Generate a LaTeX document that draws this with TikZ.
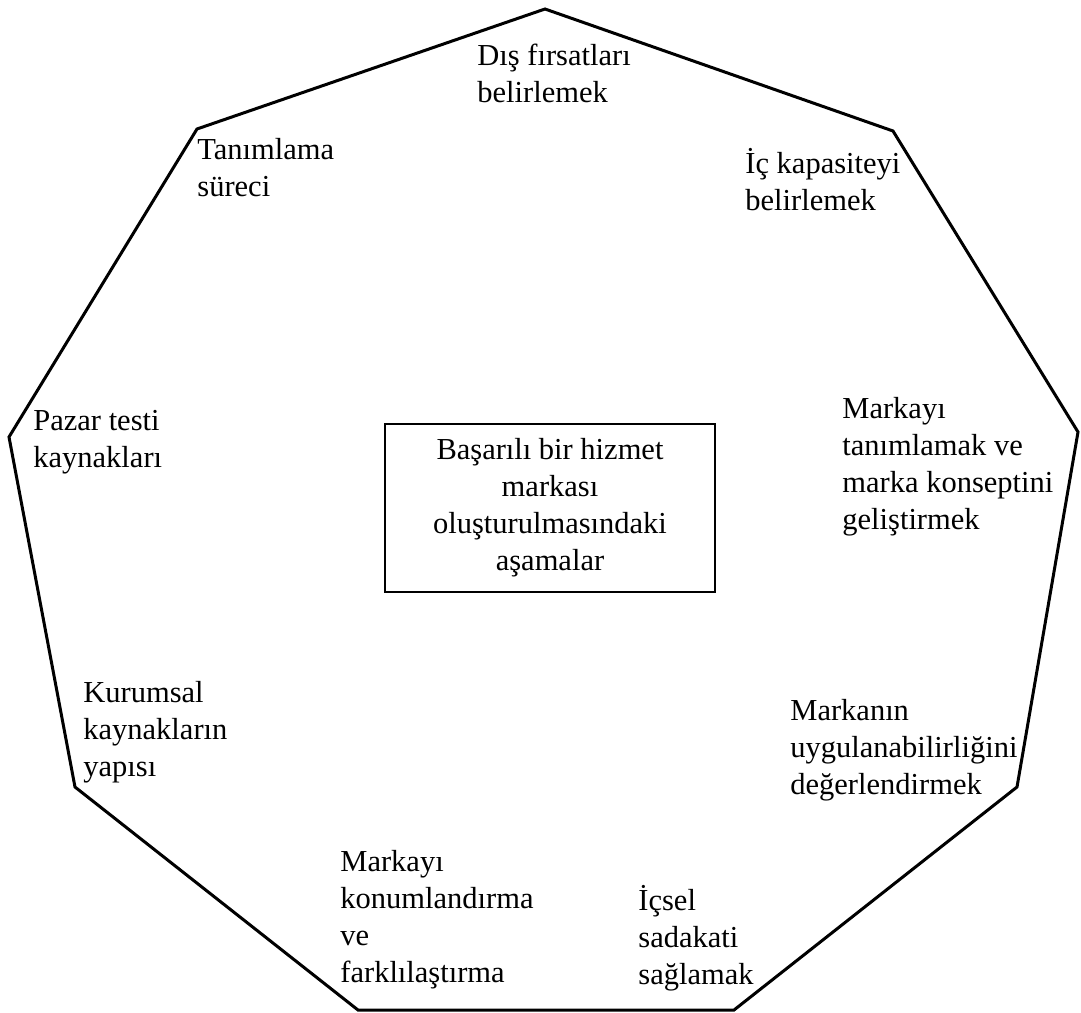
\documentclass[tikz,border=0pt]{standalone}
\usepackage{fontspec}
\setmainfont{Liberation Serif}
% left-aligned block of lines whose base is the first line's baseline
\newcommand{\leftlines}[1]{\begin{tabular}[t]{@{}l@{}}#1\end{tabular}}
\begin{document}
\begin{tikzpicture}[x=0.5pt,y=-0.5pt,
  every node/.style={font=\fontsize{15.25}{18.5}\selectfont, inner sep=0pt},
  stage/.style={anchor=base west},
  frame/.style={draw=black, line width=1.5pt, line join=miter},
  centrebox/.style={draw=black, line width=1pt, minimum width=165pt, minimum height=84pt}]
\useasboundingbox (0,0) rectangle (1081,1012);

% corners of the nine-sided outline
\coordinate (v1) at (545,9);
\coordinate (v2) at (893,131);
\coordinate (v3) at (1078,432);
\coordinate (v4) at (1017,787);
\coordinate (v5) at (734,1010);
\coordinate (v6) at (358,1010);
\coordinate (v7) at (75,787);
\coordinate (v8) at (9,437);
\coordinate (v9) at (197,129);
\draw[frame] (v1) -- (v2) -- (v3) -- (v4) -- (v5) -- (v6) -- (v7) -- (v8) -- (v9) -- cycle;

% central box
\node[centrebox] (goal) at (550,508)
  {\begin{tabular}{@{}c@{}}Başarılı bir hizmet\\ markası\\ oluşturulmasındaki\\ aşamalar\end{tabular}};

% stages around the outline
\node[stage] (dis) at (477,65) {\leftlines{Dış fırsatları\\ belirlemek}};
\node[stage] (ic) at (745,173) {\leftlines{İç kapasiteyi\\ belirlemek}};
\node[stage] (tanim) at (197,159) {\leftlines{Tanımlama\\ süreci}};
\node[stage] (pazar) at (33,430) {\leftlines{Pazar testi\\ kaynakları}};
\node[stage] (marka) at (842,418) {\leftlines{Markayı\\ tanımlamak ve\\ marka konseptini\\ geliştirmek}};
\node[stage] (uygula) at (790,720) {\leftlines{Markanın\\ uygulanabilirliğini\\ değerlendirmek}};
\node[stage] (kurum) at (83,702) {\leftlines{Kurumsal\\ kaynakların\\ yapısı}};
\node[stage] (konum) at (340,871) {\leftlines{Markayı\\ konumlandırma\\ ve\\ farklılaştırma}};
\node[stage] (icsel) at (638,910) {\leftlines{İçsel\\ sadakati\\ sağlamak}};
\end{tikzpicture}
\end{document}
